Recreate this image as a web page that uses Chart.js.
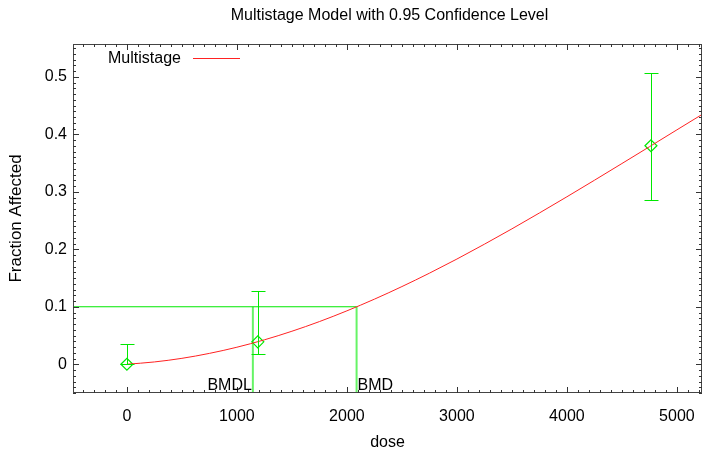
<!DOCTYPE html>
<html>
<head>
<meta charset="utf-8">
<script src="https://cdn.jsdelivr.net/npm/chart.js@4.4.0/dist/chart.umd.min.js"></script>
<style>
  html, body { margin: 0; padding: 0; background: #fff; }
</style>
</head>
<body>
<canvas id="chart" width="702" height="453"></canvas>
<script>
// observed dose groups with 95% confidence limits
const doses = [0, 1190, 4764];
const fracAffected = [0, 0.039, 0.38];
const lowerCL = [0, 0.017, 0.286];
const upperCL = [0.035, 0.127, 0.507];

// fitted multistage curve
const curveDose = [0, 250, 500, 750, 1000, 1250, 1500, 1750, 2000, 2250, 2500,
    2750, 3000, 3250, 3500, 3750, 4000, 4250, 4500, 4750, 5000, 5250];
const curveFrac = [0, 0.0040, 0.0103, 0.0189, 0.0296, 0.0425, 0.0574, 0.0742, 0.0929, 0.1132, 0.1351,
    0.1584, 0.1830, 0.2088, 0.2355, 0.2631, 0.2913, 0.3200, 0.3491, 0.3783, 0.4077, 0.4370];

const bmr = 0.1;
const bmd = 2088;
const bmdl = 1145;

const xTicks = [0, 1000, 2000, 3000, 4000, 5000];
const yTicks = [0, 0.1, 0.2, 0.3, 0.4, 0.5];
const xMin = -490, xMax = 5228;
const yMin = -0.05, yMax = 0.557;

const titleText = 'Multistage Model with 0.95 Confidence Level';

const FONT = 'Liberation Sans, Arial, sans-serif';
const green = '#00e800';
const lightGreen = '#66f466';
const red = '#ff2222';

const decorPlugin = {
    id: 'decor',
    afterDatasetsDraw(chart) {
        const { ctx, chartArea: a, scales: { x, y } } = chart;
        ctx.save();

        // error bars
        ctx.strokeStyle = green;
        ctx.lineWidth = 1;
        doses.forEach((d, i) => {
            const px = Math.round(x.getPixelForValue(d)) + 0.5;
            const top = Math.round(y.getPixelForValue(upperCL[i])) + 0.5;
            const bot = Math.round(y.getPixelForValue(lowerCL[i])) + 0.5;
            ctx.beginPath();
            ctx.moveTo(px, top); ctx.lineTo(px, bot);
            ctx.moveTo(px - 7, top); ctx.lineTo(px + 7, top);
            ctx.moveTo(px - 7, bot); ctx.lineTo(px + 7, bot);
            ctx.stroke();
        });

        // frame
        ctx.strokeStyle = '#444';
        ctx.lineWidth = 1;
        ctx.strokeRect(a.left + 0.5, a.top + 0.5, a.right - a.left - 1, a.bottom - a.top - 1);

        // inward ticks on all four sides
        ctx.strokeStyle = '#333';
        ctx.beginPath();
        for (let v = -400; v <= xMax; v += 100) {
            const px = Math.round(x.getPixelForValue(v)) + 0.5;
            const len = (v % 1000 === 0) ? 6 : 3;
            ctx.moveTo(px, a.bottom); ctx.lineTo(px, a.bottom - len);
            ctx.moveTo(px, a.top); ctx.lineTo(px, a.top + len);
        }
        for (let k = -5; k <= 55; k++) {
            const py = Math.round(y.getPixelForValue(k / 100)) + 0.5;
            const len = (k % 10 === 0) ? 6 : 3;
            ctx.moveTo(a.left, py); ctx.lineTo(a.left + len, py);
            ctx.moveTo(a.right, py); ctx.lineTo(a.right - len, py);
        }
        ctx.stroke();

        // BMDL / BMD labels
        ctx.fillStyle = '#000';
        ctx.font = '16px ' + FONT;
        ctx.textBaseline = 'alphabetic';
        ctx.textAlign = 'right';
        ctx.fillText('BMDL', x.getPixelForValue(bmdl) - 1, a.bottom - 3);
        ctx.textAlign = 'left';
        ctx.fillText('BMD', x.getPixelForValue(bmd) + 1, a.bottom - 3);

        // legend
        const ds = chart.data.datasets[0];
        ctx.textBaseline = 'middle';
        ctx.fillText(ds.label, a.left + 35, a.top + 15);
        ctx.strokeStyle = ds.borderColor;
        ctx.beginPath();
        ctx.moveTo(a.left + 120, a.top + 14.5);
        ctx.lineTo(a.left + 167, a.top + 14.5);
        ctx.stroke();

        // title centred on the plot
        ctx.textAlign = 'center';
        ctx.fillText(titleText, (a.left + a.right) / 2 + 2, 16);

        ctx.restore();
    }
};

new Chart(document.getElementById('chart'), {
    type: 'scatter',
    data: {
        datasets: [
            {
                label: 'Multistage',
                data: curveDose.map((d, i) => ({ x: d, y: curveFrac[i] })),
                showLine: true,
                borderColor: red,
                borderWidth: 1,
                pointRadius: 0,
                cubicInterpolationMode: 'monotone'
            },
            {
                label: 'Data',
                data: doses.map((d, i) => ({ x: d, y: fracAffected[i] })),
                showLine: false,
                pointStyle: 'rectRot',
                pointRadius: 6,
                borderColor: green,
                backgroundColor: 'rgba(0,0,0,0)',
                borderWidth: 1.2
            },
            {
                label: 'BMR',
                data: [{ x: xMin, y: bmr }, { x: bmd, y: bmr }],
                showLine: true,
                borderColor: green,
                borderWidth: 1,
                pointRadius: 0
            },
            {
                label: 'BMD',
                data: [{ x: bmd, y: bmr }, { x: bmd, y: yMin }],
                showLine: true,
                borderColor: lightGreen,
                borderWidth: 2,
                pointRadius: 0
            },
            {
                label: 'BMDL',
                data: [{ x: bmdl, y: bmr }, { x: bmdl, y: yMin }],
                showLine: true,
                borderColor: lightGreen,
                borderWidth: 2,
                pointRadius: 0
            }
        ]
    },
    options: {
        responsive: false,
        animation: false,
        devicePixelRatio: 1,
        layout: { autoPadding: false, padding: { top: 44, left: 0, right: 0, bottom: 0 } },
        plugins: {
            legend: { display: false },
            title: { display: false },
            tooltip: { enabled: false }
        },
        scales: {
            x: {
                type: 'linear',
                min: xMin,
                max: xMax,
                afterBuildTicks: s => { s.ticks = xTicks.map(v => ({ value: v })); },
                afterFit: s => { s.height = 60; s.paddingLeft = 0; s.paddingRight = 0; },
                grid: { display: false, drawTicks: false },
                border: { display: false },
                ticks: {
                    color: '#000',
                    font: { family: FONT, size: 16 },
                    padding: 14,
                    maxRotation: 0,
                    autoSkip: false,
                    callback: v => String(v)
                },
                title: {
                    display: true,
                    text: 'dose',
                    color: '#000',
                    font: { family: FONT, size: 16 },
                    padding: { top: 4, bottom: 0.4 }
                }
            },
            y: {
                type: 'linear',
                min: yMin,
                max: yMax,
                afterBuildTicks: s => { s.ticks = yTicks.map(v => ({ value: v })); },
                afterFit: s => { s.width = 73; s.paddingTop = 0; s.paddingBottom = 0; },
                grid: { display: false, drawTicks: false },
                border: { display: false },
                ticks: {
                    color: '#000',
                    font: { family: FONT, size: 16 },
                    padding: 6,
                    callback: v => String(v)
                },
                title: {
                    display: true,
                    text: 'Fraction Affected',
                    color: '#000',
                    font: { family: FONT, size: 17 },
                    padding: { top: 5.8, bottom: 0 }
                }
            }
        }
    },
    plugins: [decorPlugin]
});
</script>
</body>
</html>
